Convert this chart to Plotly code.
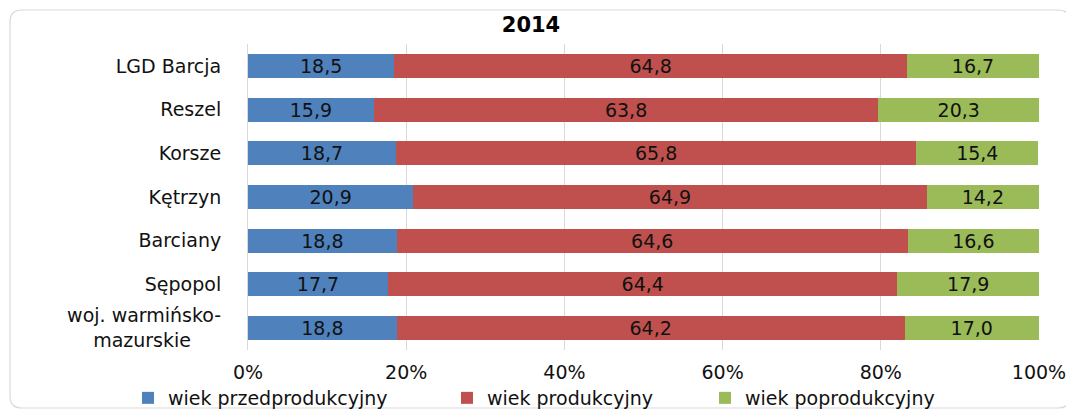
import plotly.graph_objects as go

categories = ["LGD Barcja", "Reszel", "Korsze", "Kętrzyn", "Barciany", "Sępopol", "woj. warmińsko-mazurskie"]
przed = [18.5, 15.9, 18.7, 20.9, 18.8, 17.7, 18.8]
prod = [64.8, 63.8, 65.8, 64.9, 64.6, 64.4, 64.2]
poprod = [16.7, 20.3, 15.4, 14.2, 16.6, 17.9, 17.0]
series_names = ["wiek przedprodukcyjny", "wiek produkcyjny", "wiek poprodukcyjny"]
colors = ["#4F81BD", "#C0504D", "#9BBB59"]
tick_vals = [0, 20, 40, 60, 80, 100]
tick_text = ["0%", "20%", "40%", "60%", "80%", "100%"]
cat_labels = ["LGD Barcja", "Reszel", "Korsze", "Kętrzyn", "Barciany", "Sępopol",
              "woj. warmińsko-<br>mazurskie" + "\u00a0" * 5]

FONT = "DejaVu Sans, Verdana, Arial"

# page body has an 8px margin, so figure coordinates = page coordinates - 8
W, H = 1066, 402
ml, mr, mt, mb = 240, 35, 36, 60
pw, ph = W - ml - mr, H - mt - mb

legend_ids = ["legend", "legend2", "legend3"]
legend_x = [120, 439, 697]  # figure px of each legend box's left edge

fig = go.Figure()
for name, vals, col, lid in zip(series_names, [przed, prod, poprod], colors, legend_ids):
    fig.add_trace(go.Bar(
        y=categories, x=vals, name=name, orientation="h", legend=lid,
        marker=dict(color=col, line=dict(width=0)),
        text=[f"{v:.1f}".replace(".", ",") for v in vals],
        textposition="inside", insidetextanchor="middle",
        textfont=dict(color="#111111", size=19, family=FONT),
        constraintext="none",
        hoverinfo="skip",
    ))

def px(x):
    return (x - ml) / pw

def py(y):
    return (H - mb - y) / ph

x0, x1, y0, y1 = px(2), px(1062), py(2), py(400)
rx, ry = 12 / pw, 12 / ph
path = (f"M {x0+rx},{y0} L {x1-rx},{y0} Q {x1},{y0} {x1},{y0-ry} "
        f"L {x1},{y1+ry} Q {x1},{y1} {x1-rx},{y1} L {x0+rx},{y1} "
        f"Q {x0},{y1} {x0},{y1+ry} L {x0},{y0-ry} Q {x0},{y0} {x0+rx},{y0} Z")

def legend_cfg(xpix):
    return dict(orientation="h", x=xpix / W, xref="container", xanchor="left",
                y=(H - 390) / H, yref="container", yanchor="middle",
                font=dict(size=19), itemwidth=30, bgcolor="rgba(0,0,0,0)")

fig.update_layout(
    barmode="stack",
    bargap=0.45,
    width=W, height=H,
    margin=dict(l=ml, r=mr, t=mt, b=mb, autoexpand=False),
    paper_bgcolor="white", plot_bgcolor="white",
    font=dict(family=FONT, size=19, color="#111111"),
    title=dict(text="<b>2014</b>", x=523 / W, xref="container", y=1 - 17 / H, yref="container",
               xanchor="center", yanchor="middle", font=dict(size=21, color="black", family=FONT)),
    xaxis=dict(range=[0, 100], tickvals=tick_vals, ticktext=tick_text,
               showgrid=True, gridcolor="#D9D9D9", gridwidth=1, zeroline=False,
               showline=False, ticks="", tickfont=dict(size=19), ticklabelstandoff=9),
    yaxis=dict(autorange="reversed", showline=True, linecolor="#D9D9D9",
               linewidth=1, ticks="", ticklabelstandoff=22, tickfont=dict(size=19),
               tickmode="array", tickvals=categories, ticktext=cat_labels),
    legend=legend_cfg(legend_x[0]),
    legend2=legend_cfg(legend_x[1]),
    legend3=legend_cfg(legend_x[2]),
    shapes=[dict(type="path", path=path, xref="paper", yref="paper",
                 line=dict(color="#D9D9D9", width=1.2), layer="below")],
    showlegend=True,
)

fig.write_html("out.html")
